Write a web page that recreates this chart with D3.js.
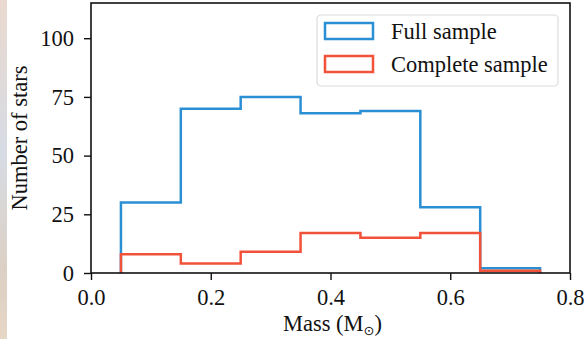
<!DOCTYPE html>
<html>
<head>
<meta charset="utf-8">
<script src="https://cdn.jsdelivr.net/npm/d3@7"></script>
<style>
  body { margin: 0; background: #fff; }
  svg text { font-family: "Liberation Serif", "Times New Roman", serif; fill: #111; }
</style>
</head>
<body>
<div id="chart"></div>
<script>
// histogram bins (mass, Msun) and counts
const binEdges = [0.05, 0.15, 0.25, 0.35, 0.45, 0.55, 0.65, 0.75];
const fullCounts = [30, 70, 75, 68, 69, 28, 2];
const completeCounts = [8, 4, 9, 17, 15, 17, 1];
const xTicks = [0.0, 0.2, 0.4, 0.6, 0.8];
const yTicks = [0, 25, 50, 75, 100];
const seriesNames = ["Full sample", "Complete sample"];
const seriesColors = ["#2b8fd3", "#f2523a"];

const width = 586, height = 339;
const margin = { top: 3, left: 91, bottom: 66, right: 16 };
const fontSize = 22.5;

const svg = d3.select("#chart").append("svg")
    .attr("width", width)
    .attr("height", height);

// photo strip showing at the left edge of the screenshot
const grad = svg.append("defs").append("linearGradient")
    .attr("id", "strip").attr("x1", 0).attr("y1", 0).attr("x2", 0).attr("y2", 1);
grad.append("stop").attr("offset", "0%").attr("stop-color", "#ead9cf");
grad.append("stop").attr("offset", "45%").attr("stop-color", "#d6dbe4");
grad.append("stop").attr("offset", "80%").attr("stop-color", "#dcd0c4");
grad.append("stop").attr("offset", "100%").attr("stop-color", "#e6d6c6");
svg.append("rect").attr("x", 0).attr("y", 0).attr("width", 7).attr("height", height)
    .attr("fill", "url(#strip)");

const x = d3.scaleLinear().domain([0, 0.8]).range([margin.left, width - margin.right]);
const y = d3.scaleLinear().domain([0, 115]).range([height - margin.bottom, margin.top]);

function stepPoints(counts) {
    const pts = [[binEdges[0], 0]];
    counts.forEach((c, i) => {
        pts.push([binEdges[i], c]);
        pts.push([binEdges[i + 1], c]);
    });
    pts.push([binEdges[binEdges.length - 1], 0]);
    return pts;
}

const line = d3.line().x(d => x(d[0])).y(d => y(d[1]));

[fullCounts, completeCounts].forEach((counts, i) => {
    svg.append("path")
        .attr("d", line(stepPoints(counts)))
        .attr("fill", "none")
        .attr("stroke", seriesColors[i])
        .attr("stroke-width", 2.5)
        .attr("stroke-linejoin", "miter");
});

// axes
const xAxis = svg.append("g")
    .attr("transform", `translate(0,${height - margin.bottom})`)
    .call(d3.axisBottom(x).tickValues(xTicks).tickFormat(d3.format(".1f")).tickSizeOuter(0).tickSize(7).tickPadding(9));
const yAxis = svg.append("g")
    .attr("transform", `translate(${margin.left},0)`)
    .call(d3.axisLeft(y).tickValues(yTicks).tickSizeOuter(0).tickSize(7).tickPadding(10));

[xAxis, yAxis].forEach(g => {
    g.select(".domain").remove();
    g.selectAll("line").attr("stroke", "#111").attr("stroke-width", 1.4);
    g.selectAll("text").attr("font-size", fontSize).attr("font-family", "Liberation Serif").attr("fill", "#111");
});

// frame
svg.append("rect")
    .attr("x", x(0)).attr("y", y(115))
    .attr("width", x(0.8) - x(0)).attr("height", y(0) - y(115))
    .attr("fill", "none").attr("stroke", "#111").attr("stroke-width", 1.6);

// axis labels
const xl = svg.append("text")
    .attr("x", (x(0) + x(0.8)) / 2 + 2)
    .attr("y", 331)
    .attr("text-anchor", "middle")
    .attr("font-size", fontSize);
xl.append("tspan").text("Mass (M");
xl.append("tspan").attr("font-size", 13).attr("dy", 4).attr("font-family", "DejaVu Sans").text("\u2299");
xl.append("tspan").attr("dy", -4).text(")");

svg.append("text")
    .attr("transform", `translate(27,${(y(0) + y(115)) / 2}) rotate(-90)`)
    .attr("text-anchor", "middle")
    .attr("font-size", fontSize)
    .text("Number of stars");

// legend
const legend = svg.append("g").attr("transform", "translate(317,15)");
legend.append("rect")
    .attr("width", 241).attr("height", 71).attr("rx", 4)
    .attr("fill", "#fff").attr("stroke", "#dcdcdc").attr("stroke-width", 1.2);
seriesNames.forEach((name, i) => {
    const g = legend.append("g").attr("transform", `translate(8,${8 + i * 33})`);
    g.append("rect")
        .attr("width", 48).attr("height", 16)
        .attr("fill", "none").attr("stroke", seriesColors[i]).attr("stroke-width", 2.5);
    g.append("text")
        .attr("x", 66).attr("y", 16)
        .attr("font-size", fontSize)
        .text(name);
});
</script>
</body>
</html>
